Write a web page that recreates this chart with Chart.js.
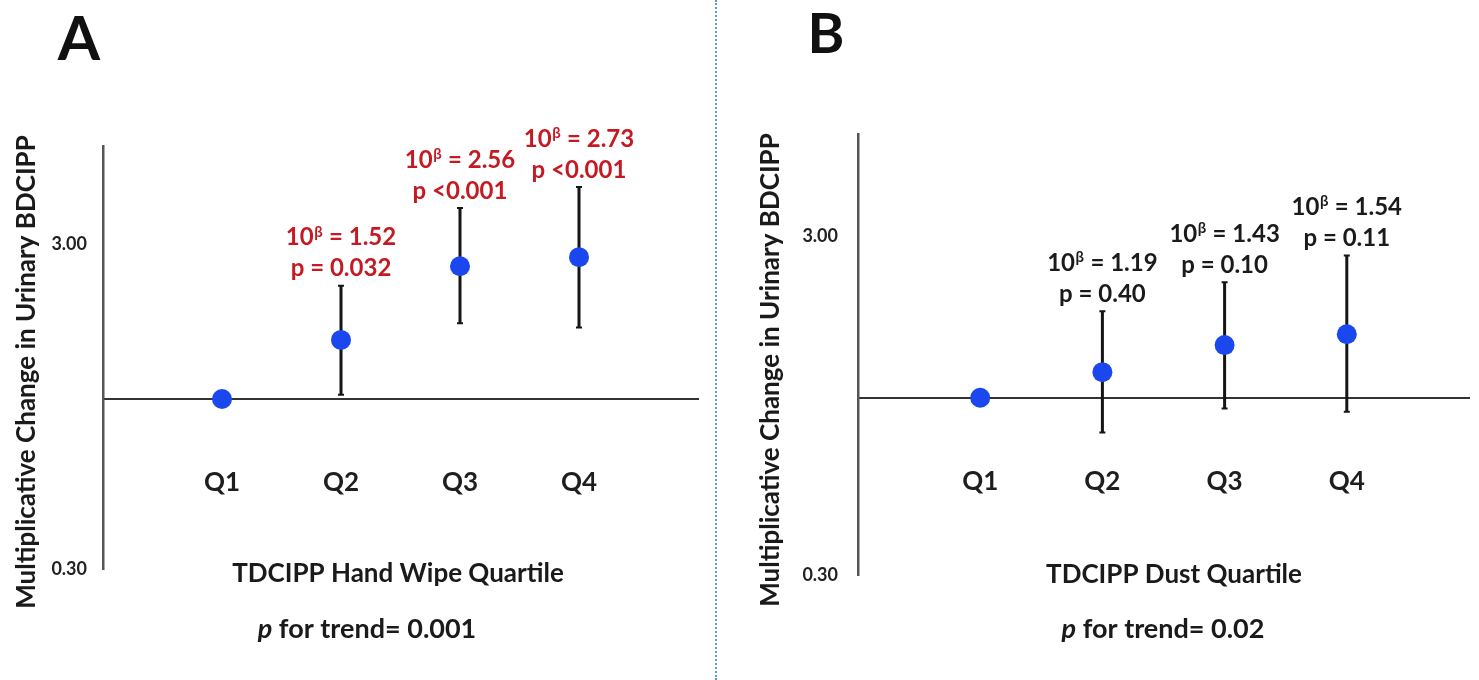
<!DOCTYPE html>
<html>
<head>
<meta charset="utf-8">
<script src="https://cdn.jsdelivr.net/npm/chart.js@4.4.1/dist/chart.umd.min.js"></script>
<style>
  html, body { margin: 0; padding: 0; background: #fff; }
  #wrap { position: relative; width: 1479px; height: 680px; overflow: hidden; }
  #chartA { position: absolute; left: 0; top: 0; }
  #chartB { position: absolute; left: 716px; top: 0; }
  #divider { position: absolute; left: 715px; top: 0; width: 0; height: 680px; border-left: 2px dotted #5b9bd5; z-index: 2; }
</style>
</head>
<body>
<div id="wrap">
  <canvas id="chartA" width="716" height="680"></canvas>
  <canvas id="chartB" width="763" height="680"></canvas>
  <div id="divider"></div>
</div>
<script>
// quartile categories and y ticks (log scale)
const quartiles = ['Q1', 'Q2', 'Q3', 'Q4'];
const yTicks = [0.30, 3.00];
const yMin = 0.3;
const yMax = 6;

// panel A - hand wipe
const handWipeRatio = [1.00, 1.52, 2.56, 2.73];
const handWipeLower = [null, 1.03, 1.71, 1.66];
const handWipeUpper = [null, 2.23, 3.87, 4.49];
const handWipeP = [null, 'p = 0.032', 'p <0.001', 'p <0.001'];

// panel B - dust
const dustRatio = [1.00, 1.19, 1.43, 1.54];
const dustLower = [null, 0.79, 0.93, 0.91];
const dustUpper = [null, 1.80, 2.19, 2.63];
const dustP = [null, 'p = 0.40', 'p = 0.10', 'p = 0.11'];

const FONT = 'Lato, "Open Sans", sans-serif';

function drawBeta(ctx, x, y, value) {
  const main = 'bold 24px ' + FONT;
  const sup = 'bold 15px ' + FONT;
  const rest = ' = ' + value.toFixed(2);
  ctx.font = main;
  const w1 = ctx.measureText('10').width;
  const w3 = ctx.measureText(rest).width;
  ctx.font = sup;
  const w2 = ctx.measureText('\u03B2').width + 1;
  let sx = x - (w1 + w2 + w3) / 2;
  ctx.textAlign = 'left';
  ctx.textBaseline = 'middle';
  ctx.font = main;
  ctx.fillText('10', sx, y);
  ctx.font = sup;
  ctx.fillText('\u03B2', sx + w1 + 0.5, y - 6);
  ctx.font = main;
  ctx.fillText(rest, sx + w1 + w2, y);
}

function makeChart(canvasId, panel) {
  const errorBars = {
    id: 'errorBars',
    beforeDatasetsDraw(chart) {
      const ctx = chart.ctx, xs = chart.scales.x, ys = chart.scales.y;
      ctx.save();
      ctx.strokeStyle = '#151515';
      panel.lower.forEach((lo, i) => {
        if (lo == null) return;
        const x = xs.getPixelForValue(i + 1);
        const y1 = ys.getPixelForValue(lo), y2 = ys.getPixelForValue(panel.upper[i]);
        ctx.lineWidth = 3;
        ctx.beginPath();
        ctx.moveTo(x, y1);
        ctx.lineTo(x, y2);
        ctx.stroke();
        ctx.lineWidth = 2;
        ctx.beginPath();
        ctx.moveTo(x - 3, y1); ctx.lineTo(x + 3, y1);
        ctx.moveTo(x - 3, y2); ctx.lineTo(x + 3, y2);
        ctx.stroke();
      });
      ctx.restore();
    }
  };

  const panelText = {
    id: 'panelText',
    afterDraw(chart) {
      const ctx = chart.ctx, xs = chart.scales.x, ys = chart.scales.y;
      ctx.save();
      // estimates and p values above the bars
      ctx.fillStyle = panel.noteColor;
      panel.ratio.forEach((v, i) => {
        if (panel.p[i] == null) return;
        const x = xs.getPixelForValue(i + 1);
        const top = ys.getPixelForValue(panel.upper[i]);
        drawBeta(ctx, x, top - 48, v);
        ctx.font = 'bold 24px ' + FONT;
        ctx.textAlign = 'center';
        ctx.textBaseline = 'middle';
        ctx.fillText(panel.p[i], x, top - 17);
      });

      ctx.fillStyle = '#111';
      // panel letter
      ctx.font = 'bold ' + panel.letterSize + 'px ' + FONT;
      ctx.textAlign = 'center';
      ctx.textBaseline = 'middle';
      ctx.fillText(panel.letter, panel.letterX, panel.letterY);

      // y title
      ctx.save();
      ctx.translate(panel.yTitleX, panel.yTitleY);
      ctx.rotate(-Math.PI / 2);
      ctx.font = 'bold 26px ' + FONT;
      ctx.fillStyle = '#1a1a1a';
      ctx.fillText('Multiplicative Change in Urinary BDCIPP', 0, 0);
      ctx.restore();

      // x title
      ctx.font = 'bold 26px ' + FONT;
      ctx.fillStyle = '#1a1a1a';
      ctx.fillText(panel.xTitle, panel.xTitleX, panel.xTitleY);

      // p for trend
      const a = 'p', b = ' for trend= ' + panel.trend;
      ctx.font = 'italic bold 27px ' + FONT;
      const wa = ctx.measureText(a).width;
      ctx.font = 'bold 27px ' + FONT;
      const wb = ctx.measureText(b).width;
      const sx = panel.trendX - (wa + wb) / 2;
      ctx.textAlign = 'left';
      ctx.font = 'italic bold 27px ' + FONT;
      ctx.fillText(a, sx, panel.trendY);
      ctx.font = 'bold 27px ' + FONT;
      ctx.fillText(b, sx + wa, panel.trendY);
      ctx.restore();
    }
  };

  return new Chart(document.getElementById(canvasId), {
    type: 'scatter',
    data: {
      datasets: [{
        data: panel.ratio.map((v, i) => ({ x: i + 1, y: v })),
        backgroundColor: '#1b47ee',
        borderWidth: 0,
        pointRadius: 10,
        pointHoverRadius: 10
      }]
    },
    options: {
      responsive: false,
      animation: false,
      events: [],
      layout: { padding: { left: 0, top: panel.padTop, right: panel.padRight, bottom: panel.padBottom } },
      plugins: { legend: { display: false }, tooltip: { enabled: false } },
      scales: {
        x: {
          type: 'linear', min: 0, max: 5,
          position: { y: 1 },
          grid: { display: false, drawTicks: false },
          border: { display: true, color: '#333', width: 2 },
          afterBuildTicks: s => { s.ticks = quartiles.map((q, i) => ({ value: i + 1 })); },
          ticks: {
            callback: v => quartiles[v - 1],
            padding: 68, autoSkip: false, maxRotation: 0,
            color: '#1e1e1e', font: { family: FONT, weight: 'bold', size: 26 }
          }
        },
        y: {
          type: 'logarithmic', min: yMin, max: yMax,
          grid: { display: false, drawTicks: false },
          border: { display: true, color: '#555', width: 2.5 },
          afterBuildTicks: s => { s.ticks = yTicks.map(v => ({ value: v })); },
          afterFit: s => { s.width = panel.axisLeft; },
          ticks: {
            callback: v => Number(v).toFixed(2),
            padding: panel.tickPad,
            color: '#222', font: { family: FONT, weight: 'bold', size: 18 }
          }
        }
      }
    },
    plugins: [errorBars, panelText]
  });
}

function build() {
  makeChart('chartA', {
    ratio: handWipeRatio, lower: handWipeLower, upper: handWipeUpper, p: handWipeP,
    noteColor: '#c41a22', letter: 'A', letterSize: 61, letterX: 79, letterY: 40,
    yTitleX: 27, yTitleY: 372, xTitle: 'TDCIPP Hand Wipe Quartile', xTitleX: 398, xTitleY: 574,
    trend: '0.001', trendX: 367, trendY: 629,
    axisLeft: 103, tickPad: 16, padTop: 146, padBottom: 111, padRight: 18
  });
  makeChart('chartB', {
    ratio: dustRatio, lower: dustLower, upper: dustUpper, p: dustP,
    noteColor: '#1a1a1a', letter: 'B', letterSize: 56, letterX: 110, letterY: 35,
    yTitleX: 55, yTitleY: 370, xTitle: 'TDCIPP Dust Quartile', xTitleX: 458, xTitleY: 575,
    trend: '0.02', trendX: 447, trendY: 629,
    axisLeft: 142, tickPad: 20, padTop: 134, padBottom: 105, padRight: 0
  });
}

if (document.fonts && document.fonts.load) {
  Promise.all([
    document.fonts.load('bold 20px Lato'),
    document.fonts.load('italic bold 20px Lato')
  ]).then(build, build);
} else {
  build();
}
</script>
</body>
</html>
